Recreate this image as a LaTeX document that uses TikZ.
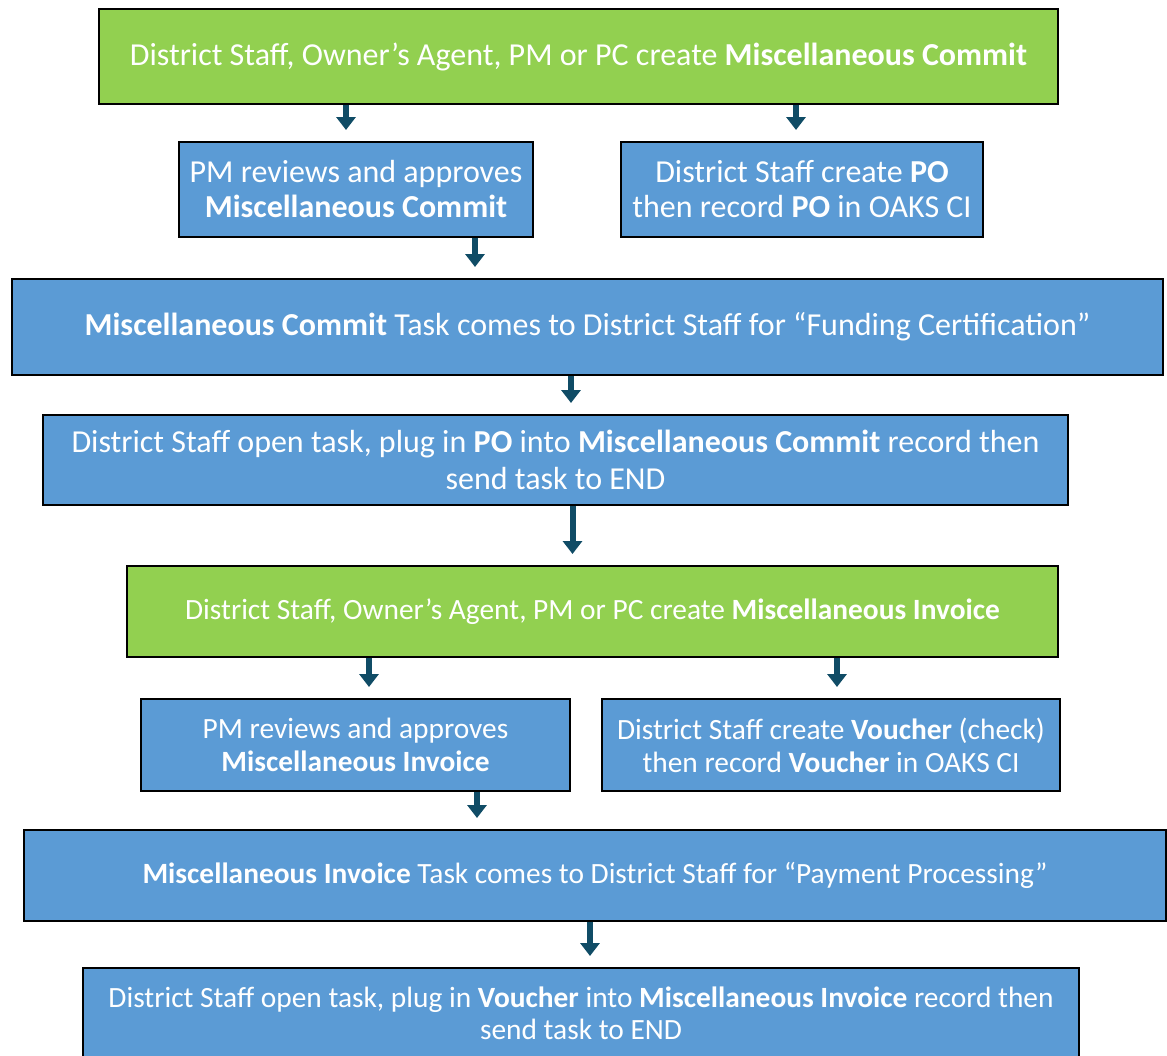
\documentclass[tikz,border=0pt]{standalone}
\usepackage{fontspec}
\setmainfont{Carlito}
\usepackage{xcolor}
\usetikzlibrary{arrows.meta,positioning,calc}
\definecolor{leafgreen}{RGB}{146,208,80}
\definecolor{stepblue}{RGB}{91,155,213}
\definecolor{arrowteal}{RGB}{16,76,102}

\begin{document}
\begin{tikzpicture}[x=0.5pt,y=-0.5pt,
  stepbox/.style={draw=black,line width=1pt,align=center,text=white,inner sep=0pt},
  greenbox/.style={stepbox,fill=leafgreen},
  bluebox/.style={stepbox,fill=stepblue},
  bigtext/.style={font=\fontsize{16}{17.5}\selectfont},
  smalltext/.style={font=\fontsize{14.7}{16.5}\selectfont},
  flow/.style={draw=arrowteal,line width=3pt,shorten >=5.5pt,-{Triangle[width=9.5pt,length=6.5pt]}}]
\useasboundingbox (0,0) rectangle (1167,1055);
% commit stage
\node[greenbox,bigtext,minimum width=479.5pt,minimum height=47.5pt] (commitgreen) at (578.5,56.5) {District Staff, Owner’s Agent, PM or PC create \textbf{Miscellaneous Commit}};
\node[bluebox,bigtext,minimum width=177pt,minimum height=47.5pt] (commitpm) at (356,189.5) {PM reviews and approves\\\textbf{Miscellaneous Commit}};
\node[bluebox,bigtext,minimum width=181pt,minimum height=47.5pt] (commitpo) at (802,189.5) {District Staff create \textbf{PO}\\then record \textbf{PO} in OAKS CI};
\node[bluebox,bigtext,minimum width=575.5pt,minimum height=48pt] (commitfund) at (587.5,327) {\textbf{Miscellaneous Commit} Task comes to District Staff for “Funding Certification”};
\node[bluebox,font=\fontsize{16}{18.5}\selectfont,minimum width=512.5pt,minimum height=45pt] (commitplug) at (555.5,460) {District Staff open task, plug in \textbf{PO} into \textbf{Miscellaneous Commit} record then\\send task to END};
% invoice stage
\node[greenbox,smalltext,minimum width=465.5pt,minimum height=45.5pt] (invgreen) at (592.5,611.5) {District Staff, Owner’s Agent, PM or PC create \textbf{Miscellaneous Invoice}};
\node[bluebox,smalltext,minimum width=214.5pt,minimum height=46pt] (invpm) at (355.5,745) {PM reviews and approves\\\textbf{Miscellaneous Invoice}};
\node[bluebox,smalltext,minimum width=229pt,minimum height=46pt] (invvoucher) at (831,745) {District Staff create \textbf{Voucher} (check)\\then record \textbf{Voucher} in OAKS CI};
\node[bluebox,smalltext,minimum width=571pt,minimum height=45.5pt] (invpay) at (595,875.5) {\textbf{Miscellaneous Invoice} Task comes to District Staff for “Payment Processing”};
\node[bluebox,font=\fontsize{14.7}{16}\selectfont,minimum width=498pt,minimum height=45pt] (invplug) at (581,1013) {District Staff open task, plug in \textbf{Voucher} into \textbf{Miscellaneous Invoice} record then\\send task to END};
% arrows
\draw[flow] ([xshift=-5pt]commitpm.north |- commitgreen.south) -- ([xshift=-5pt]commitpm.north);
\draw[flow] ([xshift=-3pt]commitpo.north |- commitgreen.south) -- ([xshift=-3pt]commitpo.north);
\draw[flow] ([xshift=59.5pt]commitpm.south) -- ([xshift=59.5pt]commitpm.south |- commitfund.north);
\draw[flow] ([xshift=-8.25pt]commitfund.south) -- ([xshift=-8.25pt]commitfund.south |- commitplug.north);
\draw[flow] ([xshift=8.5pt]commitplug.south) -- ([xshift=8.5pt]commitplug.south |- invgreen.north);
\draw[flow] ([xshift=6.75pt]invpm.north |- invgreen.south) -- ([xshift=6.75pt]invpm.north);
\draw[flow] ([xshift=3pt]invvoucher.north |- invgreen.south) -- ([xshift=3pt]invvoucher.north);
\draw[flow] ([xshift=60.75pt]invpm.south) -- ([xshift=60.75pt]invpm.south |- invpay.north);
\draw[flow] ([xshift=-2.5pt]invpay.south) -- ([xshift=-2.5pt]invpay.south |- invplug.north);
\end{tikzpicture}
\end{document}
